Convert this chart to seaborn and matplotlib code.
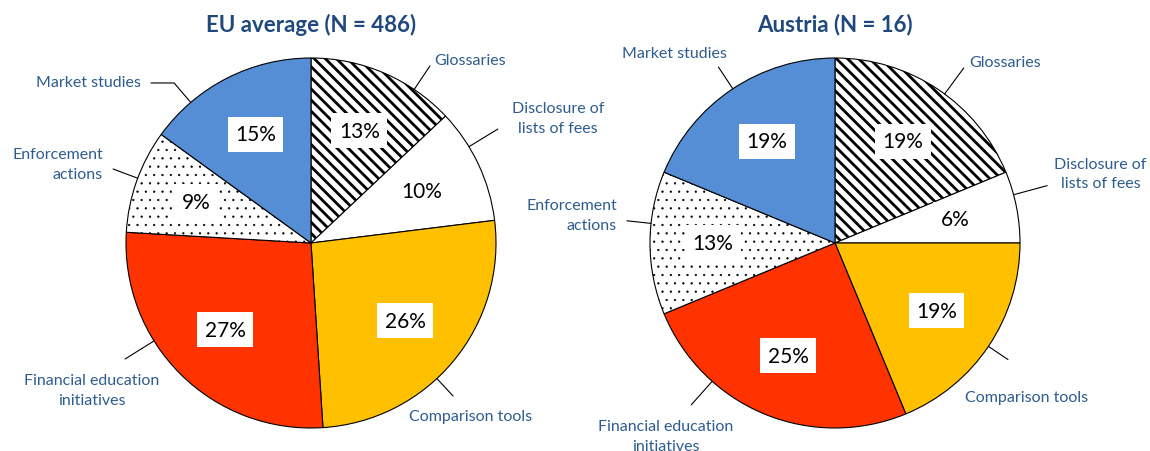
import numpy as np
import matplotlib.pyplot as plt
import seaborn as sns

# === DATA ===
categories = ["Glossaries", "Disclosure of\nlists of fees", "Comparison tools",
              "Financial education\ninitiatives", "Enforcement\nactions", "Market studies"]
eu_share = [13, 10, 26, 27, 9, 15]
at_share = [19, 6, 19, 25, 13, 19]
eu_n = 486
at_n = 16
titles = ["EU average (N = 486)", "Austria (N = 16)"]

# === STYLE ===
colors = ["white", "white", "#FFC000", "#FF3300", "white", "#558ED5"]
hatches = ["\\\\\\", None, None, None, "..", None]
hatch_widths = [2.0, None, None, None, 0.4, None]
TITLE_COLOR = "#1F497D"
LABEL_COLOR = "#2E5C8E"

sns.set_theme(style="white")
plt.rcParams["font.family"] = ["Lato", "DejaVu Sans"]
plt.rcParams["hatch.linewidth"] = 2.0

# pixel layout of the reference: pie centres and radius
SCALE = 185
W, H = 1150, 452
centers = [(311, 244), (835, 244)]

# outer label layout (text x, text y, alignment, leader line points) in radius units
eu_layout = [
    (0.665, 0.99, "left", [(0.643, 0.957)]),
    (1.335, 0.676, "center", [(1.01, 0.616)]),
    (0.865, -0.935, "center", [(0.768, -0.827)]),
    (-1.184, -0.795, "center", [(-1.005, -0.627)]),
    (-1.124, 0.427, "right", [(-1.07, 0.40)]),
    (-0.919, 0.870, "right", [(-0.74, 0.865), (-0.865, 0.865)]),
]
at_layout = [
    (0.723, 0.978, "left", [(0.696, 0.946)]),
    (1.435, 0.375, "center", [(1.147, 0.31)]),
    (1.038, -0.832, "center", [(0.935, -0.63)]),
    (-0.913, -1.043, "center", [(-0.777, -0.875)]),
    (-1.179, 0.152, "right", [(-1.125, 0.12)]),
    (-0.870, 1.027, "center", [(-0.63, 0.951)]),
]


def draw_pie(fig, idx, share, n, title, layout):
    cx, cy = centers[idx]
    ax = fig.add_axes([idx * 0.5, 0, 0.5, 1])
    sizes = np.round(np.array(share) * n / 100)

    wedges, _ = ax.pie(
        sizes, colors=colors, startangle=90, counterclock=False,
        wedgeprops=dict(edgecolor="black", linewidth=0.8),
    )
    for w, h, hw in zip(wedges, hatches, hatch_widths):
        if h:
            w.set_hatch(h)
            if hasattr(w, "set_hatch_linewidth"):
                w.set_hatch_linewidth(hw)

    for w, val, name, (tx, ty, ha, pts) in zip(wedges, share, categories, layout):
        mid = np.deg2rad((w.theta1 + w.theta2) / 2)
        ax.text(0.66 * np.cos(mid), 0.66 * np.sin(mid), f"{val}%",
                ha="center", va="center", fontsize=15, color="black",
                bbox=dict(boxstyle="square,pad=0.36", fc="white", ec="none"))
        # leader line starts on the rim, in the direction of its first point
        px, py = pts[0]
        ang = np.arctan2(py, px)
        xs = [np.cos(ang)] + [p[0] for p in pts]
        ys = [np.sin(ang)] + [p[1] for p in pts]
        ax.plot(xs, ys, color="black", linewidth=0.8)
        ax.text(tx, ty, name, ha=ha, va="center", multialignment=ha,
                fontsize=11.5, color=LABEL_COLOR, linespacing=1.5)

    ax.text(0, 1.184, title, ha="center", va="center", fontsize=16,
            fontweight="bold", color=TITLE_COLOR)

    x0 = idx * W / 2
    ax.set_xlim((x0 - cx) / SCALE, (x0 + W / 2 - cx) / SCALE)
    ax.set_ylim((cy - H) / SCALE, cy / SCALE)
    ax.set_aspect("equal")
    ax.axis("off")


fig = plt.figure(figsize=(11.5, 4.52), dpi=100)
draw_pie(fig, 0, eu_share, eu_n, titles[0], eu_layout)
draw_pie(fig, 1, at_share, at_n, titles[1], at_layout)
fig.savefig("out.png", dpi=100, facecolor="white")
plt.close(fig)
